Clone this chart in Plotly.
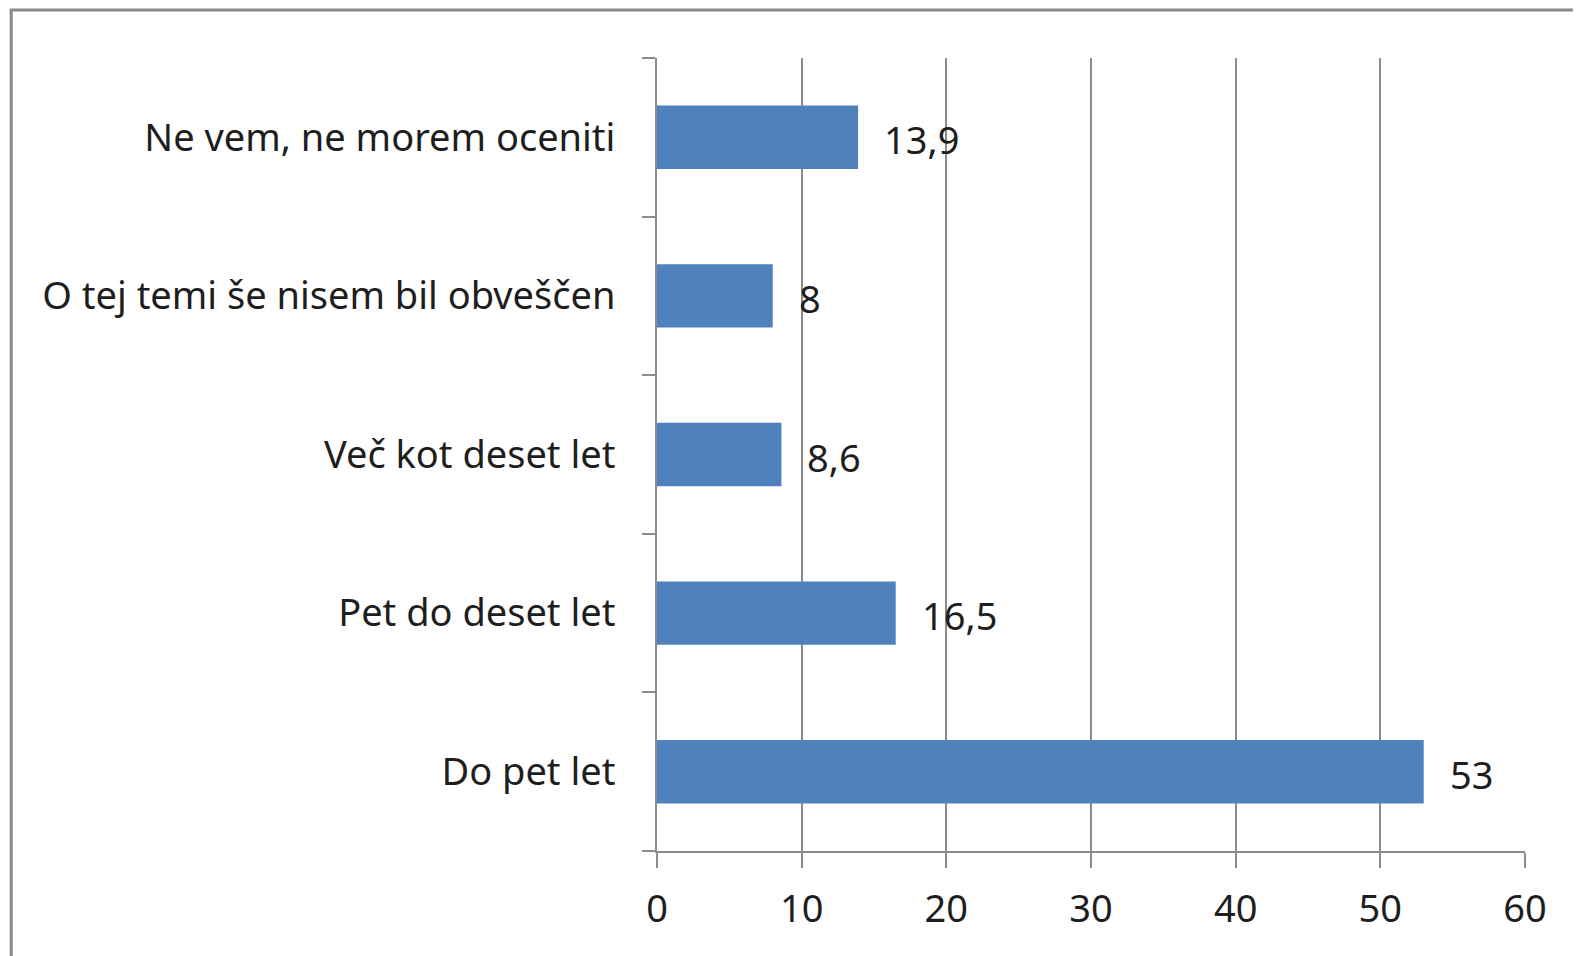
"""Horizontal bar chart: survey answers (percent)."""
import plotly.graph_objects as go

categories = [
    "Do pet let",
    "Pet do deset let",
    "Več kot deset let",
    "O tej temi še nisem bil obveščen",
    "Ne vem, ne morem oceniti",
]
values = [53, 16.5, 8.6, 8, 13.9]
x_ticks = [0, 10, 20, 30, 40, 50, 60]

BAR_COLOR = "#4F81BD"
GRID_COLOR = "#8C8C8C"
TEXT_COLOR = "#1E1E1E"
FONT = "Noto Sans"
FONT_SIZE = 38


def fmt(v):
    return f"{v:g}".replace(".", ",")


fig = go.Figure(
    go.Bar(
        x=values,
        y=categories,
        orientation="h",
        marker=dict(color=BAR_COLOR, line=dict(width=0)),
        hoverinfo="skip",
    )
)

# data labels to the right of each bar
for cat, v in zip(categories, values):
    fig.add_annotation(
        x=v, y=cat, text=fmt(v), showarrow=False,
        xanchor="left", xshift=24, yshift=-2,
        font=dict(family=FONT, size=FONT_SIZE, color=TEXT_COLOR),
    )

# chart border (top and left visible, the rest runs off the page)
fig.add_shape(
    type="rect", xref="paper", yref="paper",
    x0=-0.744, x1=1.3, y0=-0.4, y1=1.0605,
    line=dict(color="#8A8A8A", width=3), layer="below",
)

fig.update_layout(
    width=1581,
    height=956,
    margin=dict(l=649, r=64, t=50, b=113),
    paper_bgcolor="white",
    plot_bgcolor="white",
    bargap=0.6,
    showlegend=False,
    font=dict(family=FONT, size=FONT_SIZE, color=TEXT_COLOR),
    xaxis=dict(
        range=[0, 60],
        tickvals=x_ticks,
        showgrid=True,
        gridcolor=GRID_COLOR,
        gridwidth=2,
        zeroline=False,
        showline=True,
        linecolor=GRID_COLOR,
        linewidth=2,
        ticks="outside",
        ticklen=15,
        tickwidth=2,
        tickcolor=GRID_COLOR,
        ticklabelstandoff=8,
        fixedrange=True,
    ),
    yaxis=dict(
        showgrid=False,
        showline=True,
        linecolor=GRID_COLOR,
        linewidth=2,
        ticks="outside",
        tickson="boundaries",
        ticklen=13,
        tickwidth=2,
        tickcolor=GRID_COLOR,
        ticklabelstandoff=32,
        fixedrange=True,
    ),
)

fig.write_html("out.html", config={"displayModeBar": False})
